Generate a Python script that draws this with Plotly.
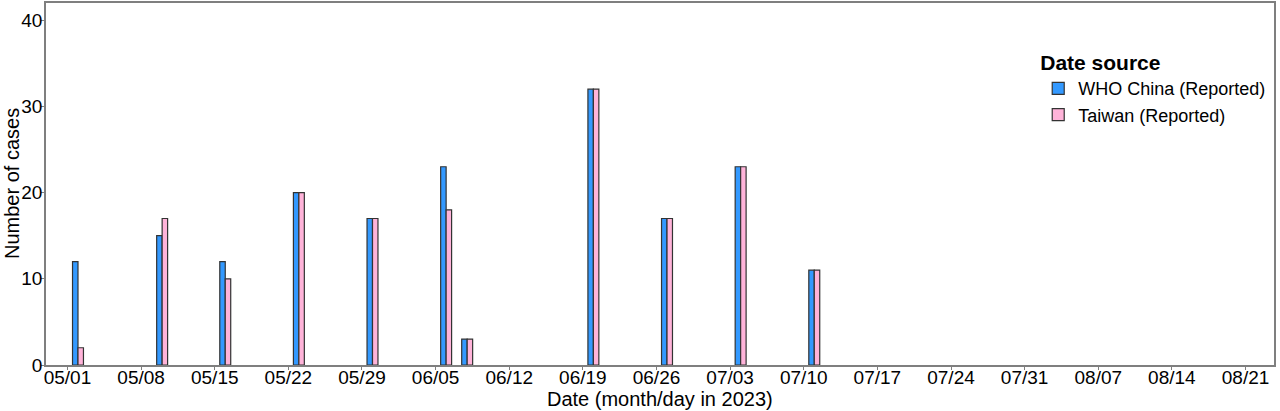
"""Weekly reported case counts: WHO China vs Taiwan."""

import plotly.graph_objects as go

# Report dates and case counts
report_dates = [
    "2023-05-02", "2023-05-10", "2023-05-16", "2023-05-23", "2023-05-30",
    "2023-06-06", "2023-06-08", "2023-06-20", "2023-06-27", "2023-07-04",
    "2023-07-11",
]
who_china = [12, 15, 12, 20, 17, 23, 3, 32, 17, 23, 11]
taiwan = [2, 17, 10, 20, 17, 18, 3, 32, 17, 23, 11]

# Weekly x-axis ticks
tick_dates = [
    "2023-05-01", "2023-05-08", "2023-05-15", "2023-05-22", "2023-05-29",
    "2023-06-05", "2023-06-12", "2023-06-19", "2023-06-26", "2023-07-03",
    "2023-07-10", "2023-07-17", "2023-07-24", "2023-07-31", "2023-08-07",
    "2023-08-14", "2023-08-21",
]
tick_labels = [
    "05/01", "05/08", "05/15", "05/22", "05/29", "06/05", "06/12", "06/19",
    "06/26", "07/03", "07/10", "07/17", "07/24", "07/31", "08/07", "08/14",
    "08/21",
]

DAY_MS = 86400000
BAR_W = 0.52 * DAY_MS
FONT = "Liberation Sans, Arial, sans-serif"

fig = go.Figure()

# Two bars per date, dodged left/right of the report date
fig.add_trace(
    go.Bar(
        x=report_dates,
        y=who_china,
        name="WHO China (Reported)",
        width=BAR_W,
        offset=-BAR_W,
        marker={"color": "#3399FF", "line": {"color": "#333333", "width": 1.2}},
    )
)
fig.add_trace(
    go.Bar(
        x=report_dates,
        y=taiwan,
        name="Taiwan (Reported)",
        width=BAR_W,
        offset=0,
        marker={"color": "#FFB3D9", "line": {"color": "#333333", "width": 1.2}},
    )
)

axis_common = {
    "showgrid": False,
    "zeroline": False,
    "showline": True,
    "linecolor": "#7f7f7f",
    "linewidth": 1.5,
    "mirror": True,
    "ticks": "outside",
    "ticklen": 3,
    "tickcolor": "#7f7f7f",
    "automargin": False,
    "tickfont": {"size": 19, "color": "black", "family": FONT},
}

fig.update_layout(
    width=1280,
    height=411,
    barmode="overlay",
    plot_bgcolor="white",
    paper_bgcolor="white",
    font={"family": FONT, "color": "black"},
    margin={"l": 46, "r": 6, "t": 3, "b": 46, "autoexpand": False},
    xaxis={
        **axis_common,
        "type": "date",
        "range": ["2023-04-28 23:00", "2023-08-23 17:00"],
        "tickmode": "array",
        "tickvals": tick_dates,
        "ticktext": tick_labels,
        "ticklabelstandoff": -9,
    },
    yaxis={
        **axis_common,
        "range": [0, 42],
        "tickvals": [0, 10, 20, 30, 40],
        "ticklabelstandoff": -5,
    },
    legend={
        "title": {
            "text": "<b>Date source</b>",
            "font": {"size": 21, "family": FONT},
        },
        "font": {"size": 18, "family": FONT},
        "x": 0.808,
        "y": 0.89,
        "xanchor": "left",
        "yanchor": "top",
        "bgcolor": "rgba(0,0,0,0)",
        "tracegroupgap": 0,
    },
    showlegend=True,
    annotations=[
        {
            "text": "Date (month/day in 2023)",
            "xref": "paper",
            "yref": "paper",
            "x": 0.5,
            "y": 0,
            "yshift": -34,
            "xanchor": "center",
            "yanchor": "middle",
            "showarrow": False,
            "font": {"size": 20, "family": FONT},
        },
        {
            "text": "Number of cases",
            "xref": "paper",
            "yref": "paper",
            "x": 0,
            "y": 0.5,
            "xshift": -34,
            "xanchor": "center",
            "yanchor": "middle",
            "textangle": -90,
            "showarrow": False,
            "font": {"size": 20, "family": FONT},
        },
    ],
)

# Page body has a default 8px margin; drop it so the figure sits at (0, 0)
fig.write_html(
    "out.html",
    config={"displayModeBar": False},
    post_script="document.body.style.margin = '0';",
)
